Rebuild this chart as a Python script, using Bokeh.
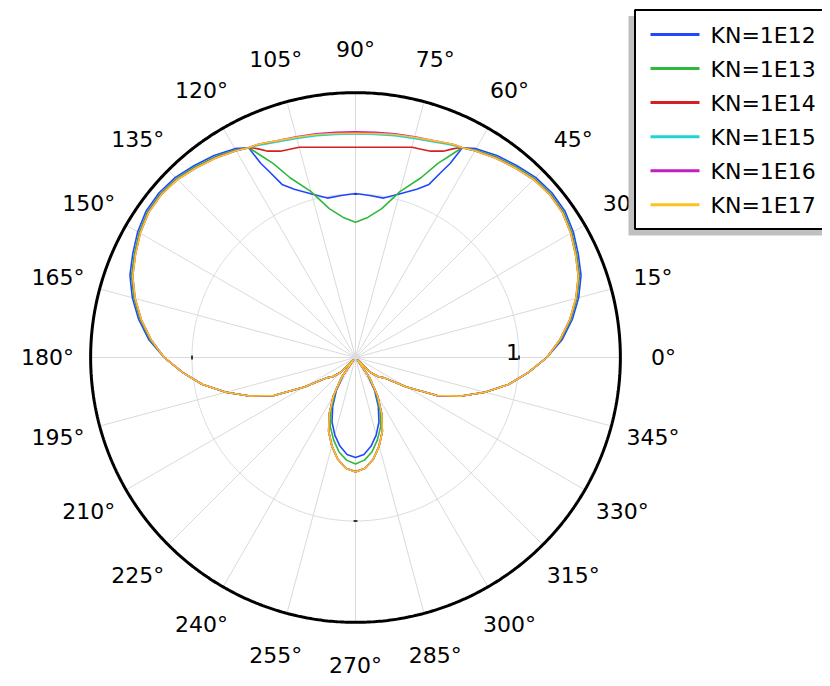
import numpy as np
from bokeh.plotting import figure
from bokeh.models import Range1d
from bokeh.embed import file_html
from bokeh.resources import INLINE
from bokeh.core.properties import value

# ---------------- data ----------------
angles_deg = [0, 5, 10, 15, 20, 25, 30, 35, 40, 45, 50, 55, 60, 63, 64, 65, 67,
              70, 75, 80, 85, 90, 95, 100, 105, 110, 113, 115, 116, 117,
              120, 125, 130, 135, 140, 145, 150, 155, 160, 165, 170, 175,
              180, 185, 190, 195, 200, 205, 210, 215, 220, 225, 230, 235,
              240, 245, 250, 255, 260, 265, 270, 275, 280, 285, 290, 295,
              300, 305, 310, 315, 320, 325, 330, 335, 340, 345, 350, 355, 360]

r_kn12 = [1.17, 1.27, 1.347, 1.413, 1.468, 1.503, 1.538, 1.563, 1.568, 1.558, 1.533, 1.508, 1.475, 1.44, 1.32, 1.26, 1.15,
          1.095, 1.035, 0.99, 0.995, 1.003, 0.995, 0.99, 1.035, 1.095, 1.15, 1.26, 1.32, 1.44,
          1.475, 1.508, 1.533, 1.558, 1.568, 1.563, 1.538, 1.503, 1.468, 1.413, 1.347, 1.27,
          1.17, 1.06, 0.95, 0.82, 0.69, 0.55, 0.36, 0.22, 0.18, 0.13, 0.02, 0.13,
          0.235, 0.33, 0.42, 0.49, 0.55, 0.595, 0.611, 0.595, 0.55, 0.49, 0.42, 0.33,
          0.235, 0.13, 0.02, 0.13, 0.18, 0.22, 0.36, 0.55, 0.69, 0.82, 0.95, 1.06, 1.17]

r_kn13 = [1.17, 1.262, 1.338, 1.403, 1.458, 1.493, 1.528, 1.553, 1.558, 1.548, 1.523, 1.498, 1.466, 1.44, 1.40, 1.36, 1.29,
          1.17, 1.05, 0.925, 0.86, 0.827, 0.86, 0.925, 1.05, 1.17, 1.29, 1.36, 1.40, 1.44,
          1.466, 1.498, 1.523, 1.548, 1.558, 1.553, 1.528, 1.493, 1.458, 1.403, 1.338, 1.262,
          1.17, 1.06, 0.95, 0.82, 0.69, 0.55, 0.36, 0.22, 0.18, 0.13, 0.02, 0.14,
          0.25, 0.355, 0.45, 0.52, 0.585, 0.63, 0.651, 0.63, 0.585, 0.52, 0.45, 0.355,
          0.25, 0.14, 0.02, 0.13, 0.18, 0.22, 0.36, 0.55, 0.69, 0.82, 0.95, 1.06, 1.17]

r_kn14 = [1.17, 1.257, 1.333, 1.398, 1.453, 1.488, 1.523, 1.548, 1.553, 1.543, 1.518, 1.493, 1.462, 1.44, 1.426, 1.408, 1.371,
          1.343, 1.331, 1.306, 1.291, 1.286, 1.291, 1.306, 1.331, 1.343, 1.371, 1.408, 1.426, 1.44,
          1.462, 1.493, 1.518, 1.543, 1.553, 1.548, 1.523, 1.488, 1.453, 1.398, 1.333, 1.257,
          1.17, 1.06, 0.95, 0.82, 0.69, 0.55, 0.36, 0.22, 0.18, 0.13, 0.02, 0.15,
          0.27, 0.38, 0.48, 0.56, 0.63, 0.68, 0.698, 0.68, 0.63, 0.56, 0.48, 0.38,
          0.27, 0.15, 0.02, 0.13, 0.18, 0.22, 0.36, 0.55, 0.69, 0.82, 0.95, 1.06, 1.17]

r_kn15 = [1.17, 1.256, 1.332, 1.397, 1.452, 1.487, 1.522, 1.547, 1.552, 1.542, 1.517, 1.492, 1.461, 1.44, 1.435, 1.43, 1.418,
          1.403, 1.387, 1.378, 1.37, 1.368, 1.37, 1.378, 1.387, 1.403, 1.418, 1.43, 1.435, 1.44,
          1.461, 1.492, 1.517, 1.542, 1.552, 1.547, 1.522, 1.487, 1.452, 1.397, 1.332, 1.256,
          1.17, 1.06, 0.95, 0.82, 0.69, 0.55, 0.36, 0.22, 0.18, 0.13, 0.02, 0.15,
          0.27, 0.38, 0.48, 0.56, 0.63, 0.68, 0.70, 0.68, 0.63, 0.56, 0.48, 0.38,
          0.27, 0.15, 0.02, 0.13, 0.18, 0.22, 0.36, 0.55, 0.69, 0.82, 0.95, 1.06, 1.17]

r_kn16 = [1.17, 1.255, 1.33, 1.395, 1.45, 1.485, 1.52, 1.545, 1.55, 1.54, 1.515, 1.49, 1.46, 1.44, 1.438, 1.435, 1.425,
          1.41, 1.397, 1.39, 1.382, 1.38, 1.382, 1.39, 1.397, 1.41, 1.425, 1.435, 1.438, 1.44,
          1.46, 1.49, 1.515, 1.54, 1.55, 1.545, 1.52, 1.485, 1.45, 1.395, 1.33, 1.255,
          1.17, 1.06, 0.95, 0.82, 0.69, 0.55, 0.36, 0.22, 0.18, 0.13, 0.02, 0.15,
          0.27, 0.38, 0.48, 0.56, 0.63, 0.68, 0.70, 0.68, 0.63, 0.56, 0.48, 0.38,
          0.27, 0.15, 0.02, 0.13, 0.18, 0.22, 0.36, 0.55, 0.69, 0.82, 0.95, 1.06, 1.17]

r_kn17 = [1.17, 1.255, 1.33, 1.395, 1.45, 1.485, 1.52, 1.545, 1.55, 1.54, 1.515, 1.49, 1.46, 1.44, 1.438, 1.435, 1.425,
          1.41, 1.395, 1.385, 1.375, 1.372, 1.375, 1.385, 1.395, 1.41, 1.425, 1.435, 1.438, 1.44,
          1.46, 1.49, 1.515, 1.54, 1.55, 1.545, 1.52, 1.485, 1.45, 1.395, 1.33, 1.255,
          1.17, 1.06, 0.95, 0.82, 0.69, 0.55, 0.36, 0.22, 0.18, 0.13, 0.02, 0.15,
          0.27, 0.38, 0.48, 0.56, 0.63, 0.68, 0.70, 0.68, 0.63, 0.56, 0.48, 0.38,
          0.27, 0.15, 0.02, 0.13, 0.18, 0.22, 0.36, 0.55, 0.69, 0.82, 0.95, 1.06, 1.17]

series_names = ["KN=1E12", "KN=1E13", "KN=1E14", "KN=1E15", "KN=1E16", "KN=1E17"]
series_r = [r_kn12, r_kn13, r_kn14, r_kn15, r_kn16, r_kn17]
series_colors = ["#2148ff", "#30b83c", "#d42020", "#1ed4d4", "#c21ec2", "#ffc11e"]

angle_ticks = list(range(0, 360, 15))
angle_tick_labels = [f"{a}\u00b0" for a in angle_ticks]
radial_ticks = [1]
radial_tick_labels = ["1"]
r_max = 1.62

# ---------------- layout constants (pixels, canvas coordinates) ----------------
W, H = 822, 678
CX, CY = 355.0, 357.0        # pole position inside the canvas (from left / top)
S = 163.5                    # pixels per radial unit
LABEL_R = 308.0 / S
FONT = "DejaVu Sans"

p = figure(width=W, height=H, output_backend="svg", toolbar_location=None,
           x_axis_type=None, y_axis_type=None, min_border=0,
           x_range=Range1d(-CX / S, (W - CX) / S),
           y_range=Range1d(-(H - CY) / S, CY / S))
p.outline_line_color = None
p.background_fill_color = "white"
p.border_fill_color = "white"
p.grid.visible = False


def px(xp, yp):
    """canvas pixel -> data coordinates"""
    return (xp - CX) / S, (CY - yp) / S


# spokes
sp = np.deg2rad(angle_ticks)
p.segment(x0=0, y0=0, x1=r_max * np.cos(sp), y1=r_max * np.sin(sp),
          line_color="#dadada", line_width=1)
p.scatter(x=[0], y=[0], size=7, fill_color="#dcdcdc", line_color=None)

# grid circle(s)
t = np.linspace(0, 2 * np.pi, 721)
for rt in radial_ticks:
    p.line(rt * np.cos(t), rt * np.sin(t), line_color="#dadada", line_width=1)
    # small black ticks on the grid circle at 0, 90, 180, 270
    for a in (0, 90, 180, 270):
        ar = np.deg2rad(a)
        d = 0.012
        p.segment(x0=rt * np.cos(ar) - d * np.sin(ar), y0=rt * np.sin(ar) + d * np.cos(ar),
                  x1=rt * np.cos(ar) + d * np.sin(ar), y1=rt * np.sin(ar) - d * np.cos(ar),
                  line_color="black", line_width=1.5)

# outer circle
p.line(r_max * np.cos(t), r_max * np.sin(t), line_color="black", line_width=3)

# data curves
th = np.deg2rad(angles_deg)
for name, rr, col in zip(series_names, series_r, series_colors):
    rr = np.array(rr)
    p.line(rr * np.cos(th), rr * np.sin(th), line_color=col, line_width=1.6,
           line_join="round")

# angle labels
p.text(x=LABEL_R * np.cos(sp), y=LABEL_R * np.sin(sp), text=angle_tick_labels,
       text_font=value(FONT), text_font_size="22px", text_color="black",
       text_align="center", text_baseline="middle")

# radial tick label
p.text(x=[radial_ticks[0]], y=[0], text=radial_tick_labels, text_font=value(FONT),
       text_font_size="22px", text_color="black", text_align="right",
       text_baseline="alphabetic", x_offset=1, y_offset=-6)

# legend (drawn on top)
sx0, sy0 = px(628, 15.5)
sx1, sy1 = px(845, 235)
p.quad(left=sx0, right=sx1, top=sy0, bottom=sy1, fill_color="#c0c0c0", line_color=None)
bx0, by0 = px(634.5, 9.5)
bx1, by1 = px(845, 228.5)
p.quad(left=bx0, right=bx1, top=by0, bottom=by1, fill_color="white",
       line_color="black", line_width=2)
for i, (name, col) in enumerate(zip(series_names, series_colors)):
    yy = 34 + i * 34.05
    lx0, ly = px(650, yy)
    lx1, _ = px(699, yy)
    p.segment(x0=lx0, y0=ly, x1=lx1, y1=ly, line_color=col, line_width=3)
    tx, ty = px(710, yy + 1)
    p.text(x=[tx], y=[ty], text=[name], text_font=value(FONT), text_font_size="22px",
           text_color="black", text_align="left", text_baseline="middle")

open("out.html", "w").write(file_html(p, INLINE))
